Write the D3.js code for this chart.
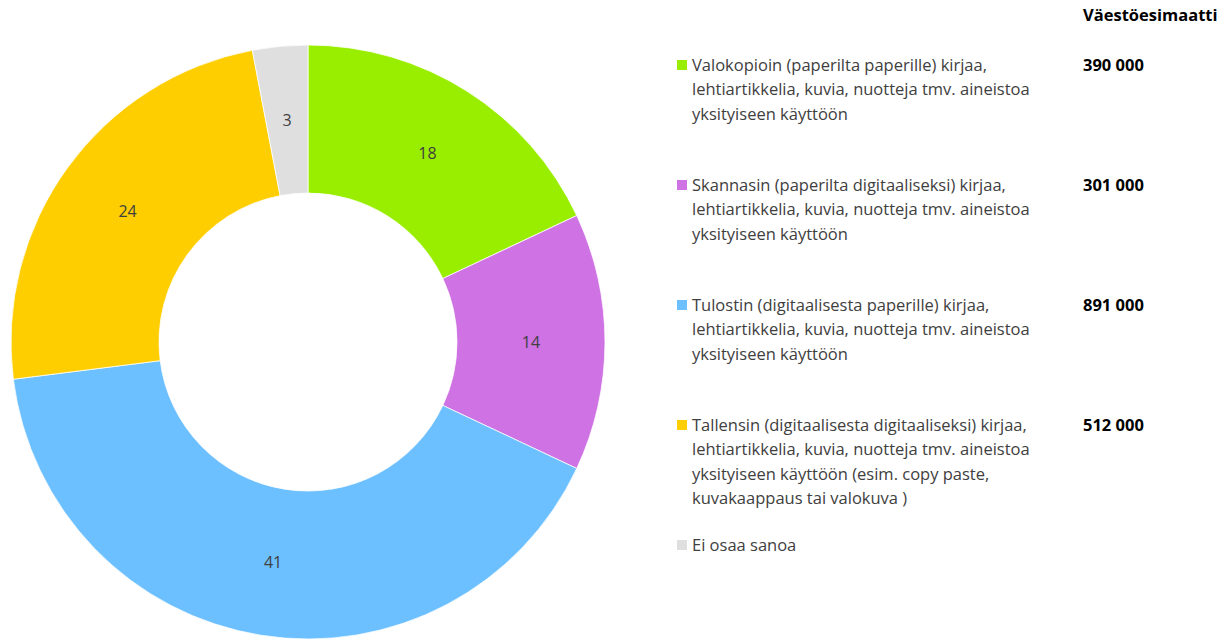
<!DOCTYPE html>
<html>
<head>
<meta charset="utf-8">
<script src="https://cdn.jsdelivr.net/npm/d3@7"></script>
<style>
  body { margin: 0; background: #fff; }
  svg { display: block; font-family: "Open Sans", sans-serif; }
</style>
</head>
<body>
<svg id="chart" width="1232" height="641"></svg>
<script>
// Data
const categories = [
  ["Valokopioin (paperilta paperille) kirjaa,", "lehtiartikkelia, kuvia, nuotteja tmv. aineistoa", "yksityiseen käyttöön"],
  ["Skannasin (paperilta digitaaliseksi) kirjaa,", "lehtiartikkelia, kuvia, nuotteja tmv. aineistoa", "yksityiseen käyttöön"],
  ["Tulostin (digitaalisesta paperille) kirjaa,", "lehtiartikkelia, kuvia, nuotteja tmv. aineistoa", "yksityiseen käyttöön"],
  ["Tallensin (digitaalisesta digitaaliseksi) kirjaa,", "lehtiartikkelia, kuvia, nuotteja tmv. aineistoa", "yksityiseen käyttöön (esim. copy paste,", "kuvakaappaus tai valokuva )"],
  ["Ei osaa sanoa"]
];
const values = [18, 14, 41, 24, 3];
const estimates = ["390 000", "301 000", "891 000", "512 000", ""];
const colors = ["#99ee00", "#cf72e3", "#6cc0ff", "#ffce00", "#dfdfdf"];
const estimateTitle = "Väestöesimaatti";

const svg = d3.select("#chart");
const cx = 308, cy = 342;
const outerR = 297, innerR = 149;

const pie = d3.pie().sort(null).value(d => d)(values);
const arc = d3.arc().innerRadius(innerR).outerRadius(outerR);

const g = svg.append("g").attr("transform", `translate(${cx},${cy})`);

g.selectAll("path")
  .data(pie)
  .enter()
  .append("path")
  .attr("d", arc)
  .attr("fill", (d, i) => colors[i])
  .attr("stroke", "#fff")
  .attr("stroke-width", 0.75);

g.selectAll("text")
  .data(pie)
  .enter()
  .append("text")
  .attr("transform", d => `translate(${arc.centroid(d)})`)
  .attr("text-anchor", "middle")
  .attr("dy", "0.35em")
  .attr("fill", "#404040")
  .attr("font-size", 16)
  .text(d => d.data);

// Legend
const legendX = 677, legendY = 65, itemStep = 120, lineH = 24.5;
const valueX = 1083;
const fs = 16.5;

svg.append("text")
  .attr("x", valueX)
  .attr("y", 15)
  .attr("dy", "0.35em")
  .attr("font-size", fs)
  .attr("font-weight", "bold")
  .attr("fill", "#000")
  .text(estimateTitle);

const items = svg.selectAll("g.legend")
  .data(categories)
  .enter()
  .append("g")
  .attr("class", "legend")
  .attr("transform", (d, i) => `translate(${legendX},${legendY + i * itemStep})`);

items.append("rect")
  .attr("x", 0)
  .attr("y", -5)
  .attr("width", 10)
  .attr("height", 10)
  .attr("fill", (d, i) => colors[i]);

items.append("text")
  .attr("x", 15)
  .attr("fill", "#404040")
  .attr("font-size", fs)
  .selectAll("tspan")
  .data(d => d)
  .enter()
  .append("tspan")
  .attr("x", 15)
  .attr("y", (d, j) => j * lineH)
  .attr("dy", "0.35em")
  .text(d => d);

items.append("text")
  .attr("x", valueX - legendX)
  .attr("dy", "0.35em")
  .attr("font-size", fs)
  .attr("font-weight", "bold")
  .attr("fill", "#000")
  .text((d, i) => estimates[i]);
</script>
</body>
</html>
